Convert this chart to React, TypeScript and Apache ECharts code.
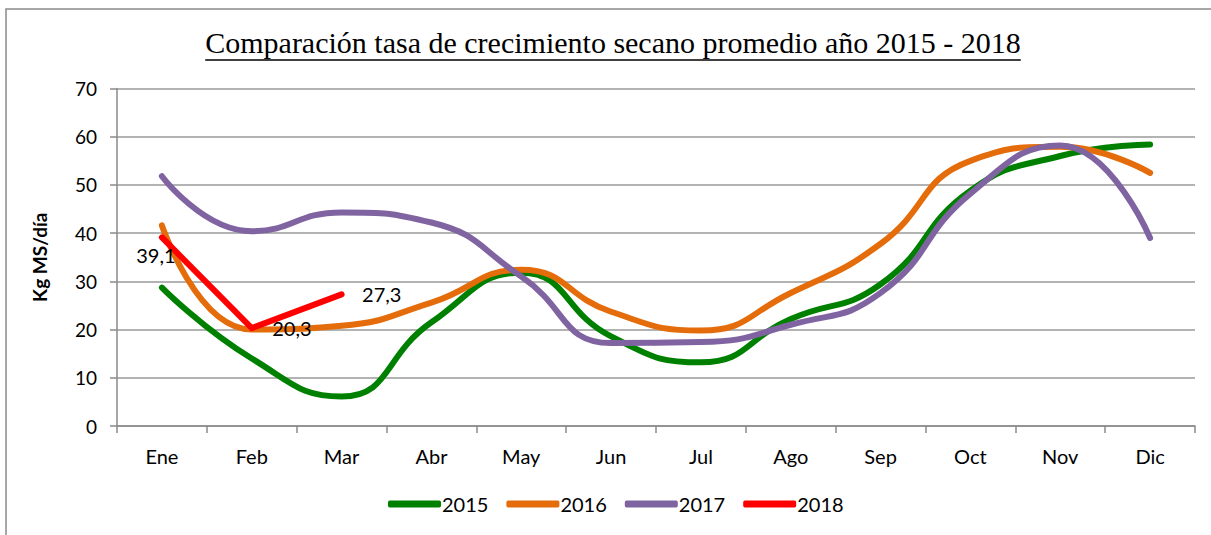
import React, { useEffect, useRef } from "react";
import * as echarts from "echarts";

const months = ["Ene", "Feb", "Mar", "Abr", "May", "Jun", "Jul", "Ago", "Sep", "Oct", "Nov", "Dic"];
const s2015 = [28.7, 14.0, 6.1, 21.5, 31.8, 18.6, 13.2, 22.2, 29.4, 48.8, 56.0, 58.4];
const s2016 = [41.6, 20.0, 20.8, 25.6, 32.4, 23.7, 19.8, 27.6, 37.8, 55.0, 57.9, 52.5];
const s2017 = [51.8, 40.4, 44.3, 42.2, 31.0, 17.2, 17.4, 21.0, 27.6, 48.2, 58.2, 39.0];
const s2018 = [39.1, 20.3, 27.3];
const yTicks = [0, 10, 20, 30, 40, 50, 60, 70];

const TITLE = "Comparación tasa de crecimiento secano promedio año 2015 - 2018";
const TITLE_FONT = '30px "Liberation Serif"';

export default function App() {
  const ref = useRef<HTMLDivElement>(null);
  useEffect(() => {
    if (!ref.current) return;
    const chart = echarts.init(ref.current, null, { renderer: "svg" });
    const cv = document.createElement("canvas").getContext("2d")!;
    cv.font = TITLE_FONT;
    const tw = cv.measureText(TITLE).width;
    const cx = 613;
    const font = "Lato";
    const lineSeries = (name: string, data: any[], color: string, z: number, smooth: any) => ({
      name,
      type: "line",
      data,
      smooth,
      symbol: "none",
      z,
      lineStyle: { color, width: 6, cap: "round", join: "round" },
      itemStyle: { color },
    });
    const data2018 = s2018.map((v, i) =>
      i === 0
        ? { value: v, label: { position: "bottom", distance: 7, offset: [-6, 0] } }
        : { value: v }
    );
    chart.setOption({
      animation: false,
      backgroundColor: "#fff",
      graphic: [
        {
          type: "rect",
          shape: { x: 6, y: 9, width: 1300, height: 700 },
          style: { fill: "none", stroke: "#8a8a8a", lineWidth: 1.5 },
          silent: true,
        },
        {
          type: "text",
          x: cx,
          y: 57,
          style: {
            text: TITLE,
            font: TITLE_FONT,
            fill: "#000",
            align: "center",
            verticalAlign: "bottom",
          },
        },
        {
          type: "line",
          shape: { x1: cx - tw / 2, y1: 60, x2: cx + tw / 2, y2: 60 },
          style: { stroke: "#000", lineWidth: 1.3 },
        },
      ],
      grid: { left: 117, right: 16, top: 88.5, bottom: 109, containLabel: false },
      legend: {
        bottom: 16,
        left: 383,
        icon: "roundRect",
        itemWidth: 53,
        itemHeight: 7,
        itemGap: 18,
        textStyle: { fontFamily: font, fontSize: 20, color: "#000", padding: [0, 0, 0, -4] },
        data: ["2015", "2016", "2017", "2018"],
      },
      xAxis: {
        type: "category",
        data: months,
        boundaryGap: true,
        axisLine: { lineStyle: { color: "#8a8a8a", width: 1.5 } },
        axisTick: { show: true, length: 7, lineStyle: { color: "#8a8a8a", width: 1.5 } },
        axisLabel: { fontFamily: font, fontSize: 20, color: "#000", margin: 20 },
      },
      yAxis: {
        type: "value",
        min: yTicks[0],
        max: yTicks[yTicks.length - 1],
        interval: 10,
        name: "Kg MS/día",
        nameLocation: "middle",
        nameGap: 68,
        nameRotate: 90,
        nameTextStyle: { fontFamily: font, fontSize: 19, fontWeight: "bold", color: "#000" },
        axisLine: { show: true, lineStyle: { color: "#8a8a8a", width: 1.5 } },
        axisTick: { show: true, length: 7, lineStyle: { color: "#8a8a8a", width: 1.5 } },
        axisLabel: { fontFamily: font, fontSize: 19, color: "#000", margin: 20 },
        splitLine: { lineStyle: { color: "#9a9a9a", width: 1.5 } },
      },
      series: [
        lineSeries("2015", s2015, "#008000", 2, 0.5),
        lineSeries("2016", s2016, "#E46C0A", 3, 0.5),
        lineSeries("2017", s2017, "#8064A2", 4, 0.5),
        {
          ...lineSeries("2018", data2018, "#FF0000", 5, false),
          symbol: "circle",
          symbolSize: 1,
          showSymbol: true,
          label: {
            show: true,
            position: "right",
            distance: 20,
            fontFamily: font,
            fontSize: 20,
            color: "#000",
            formatter: (p: any) => String(p.value).replace(".", ","),
          },
        },
      ],
    });
    return () => chart.dispose();
  }, []);
  return (
    <div
      ref={ref}
      style={{ position: "fixed", left: 0, top: 0, width: 1211, height: 535 }}
    />
  );
}
